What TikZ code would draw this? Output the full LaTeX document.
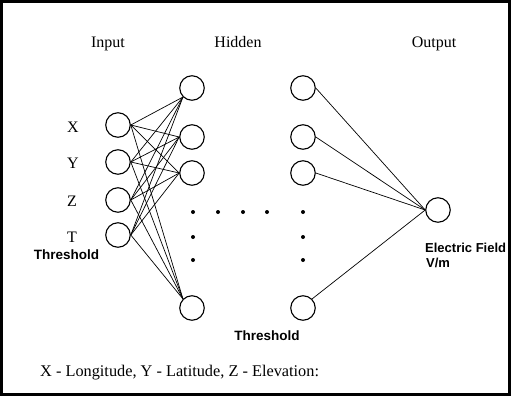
\documentclass[tikz,border=0pt]{standalone}
\usepackage{fontspec}
\setmainfont{Liberation Serif}
\newfontfamily\labelsans{Liberation Sans}
\begin{document}
\begin{tikzpicture}[x=1pt,y=-1pt,
  neuron/.style={circle,draw,line width=1.1pt,minimum size=24.5pt,inner sep=0pt},
  link/.style={line width=0.7pt},
  serif/.style={font=\fontsize{16}{18}\selectfont,inner sep=0pt,anchor=base},
  boldlabel/.style={font=\labelsans\bfseries\fontsize{13.5}{15}\selectfont,inner sep=0pt,anchor=base},
  dotmark/.style={circle,fill,inner sep=0pt,minimum size=4pt}]
  % frame
  \useasboundingbox (0,0) rectangle (511,396);
  \draw[line width=2.6pt] (1.3,1.3) rectangle (509.7,394.7);

  % layer titles
  \node[serif] (tin)  at (108,47.5) {Input};
  \node[serif] (thid) at (238,47.5) {Hidden};
  \node[serif] (tout) at (434,47.5) {Output};

  % input layer
  \node[neuron] (x) at (118,125) {};
  \node[neuron] (y) at (118,162) {};
  \node[neuron] (z) at (118,200) {};
  \node[neuron] (t) at (118,235) {};
  \node[serif] (lx) at (73,132.5) {X};
  \node[serif] (ly) at (73,168) {Y};
  \node[serif] (lz) at (72,206.5) {Z};
  \node[serif] (lt) at (72,242.5) {T};
  \node[boldlabel] (th1) at (66.5,259) {Threshold};

  % first hidden column
  \node[neuron] (a1) at (192,88) {};
  \node[neuron] (a2) at (192,137) {};
  \node[neuron] (a3) at (192,173) {};
  \node[neuron] (a4) at (192,308) {};

  % second hidden column
  \node[neuron] (b1) at (303,88) {};
  \node[neuron] (b2) at (303,137) {};
  \node[neuron] (b3) at (303,173) {};
  \node[neuron] (b4) at (303,308) {};

  % output neuron
  \node[neuron] (o) at (438,210) {};
  \node[boldlabel,anchor=base west,font=\labelsans\bfseries\fontsize{13}{15}\selectfont] (ef) at (425,252) {Electric Field};
  \node[boldlabel,anchor=base west,font=\labelsans\bfseries\fontsize{13}{15}\selectfont] (vm) at (426,267) {V/m};

  \node[boldlabel] (th2) at (267,340.5) {Threshold};

  % ellipsis dots
  \foreach \px/\py [count=\i] in {193/212,218/212,243/212,267/212,303/212,
                                  193/237,193/260,303/237,303/260}
    \node[dotmark] (d\i) at (\px,\py) {};

  % input -> first hidden column
  \foreach \s in {x,y,z,t} {
    \draw[link] (\s.east) -- (a1.225);
    \draw[link] (\s.east) -- (a2.west);
    \draw[link] (\s.east) -- (a3.west);
    \draw[link] (\s.east) -- (a4.135);
  }

  % second hidden column -> output
  \draw[link] (b1.east) -- (o.west);
  \draw[link] (b2.east) -- (o.west);
  \draw[link] (b3.east) -- (o.west);
  \draw[link] (b4.45) -- (o.west);

  % legend
  \node[serif,anchor=base west,font=\fontsize{16.3}{18}\selectfont] (legend) at (40,376.5) {X - Longitude, Y - Latitude, Z - Elevation:};
\end{tikzpicture}
\end{document}
